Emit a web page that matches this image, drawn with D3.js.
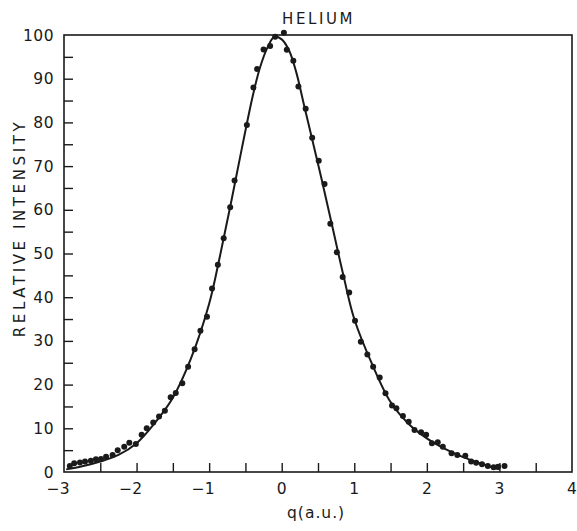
<!DOCTYPE html>
<html><head><meta charset="utf-8">
<script src="https://cdn.jsdelivr.net/npm/d3@7"></script>
<style>body{margin:0;background:#fff}svg{display:block}</style>
</head><body><svg id="c" width="577" height="531"></svg>
<script>
const title = "HELIUM";
const xLabel = "q(a.u.)";
const yLabel = "RELATIVE INTENSITY";
const xTicks = [-3, -2, -1, 0, 1, 2, 3, 4];
const xMinorTicks = [-2.5, -1.5, -0.5, 0.5, 1.5, 2.5, 3.5];
const yTicks = [0, 10, 20, 30, 40, 50, 60, 70, 80, 90, 100];
const yMinorTicks = [5, 15, 25, 35, 45, 55, 65, 75, 85, 95];

// fitted curve
const curveQ = [-2.97,-2.75,-2.5,-2.25,-2.0,-1.75,-1.5,-1.25,-1.0,-0.85,-0.7,-0.55,-0.4,-0.3,-0.2,-0.1,0,0.1,0.2,0.3,0.4,0.55,0.7,0.85,1.0,1.25,1.5,1.75,2.0,2.25,2.5,2.75,3.0];
const curveI = [0.6,1.3,2.4,3.9,6.6,11.2,17.0,26.0,38.5,49.5,61.5,74,86,92.5,97,99.6,99.0,96.5,91.5,84.5,77.5,67,56,45,35,24.5,16,11,7.7,5.3,3.4,1.9,0.6];

// measured points
const dotQ = [-2.92,-2.86,-2.78,-2.71,-2.63,-2.56,-2.49,-2.42,-2.33,-2.26,-2.17,-2.10,-2.01,
  -1.93,-1.86,-1.77,-1.69,-1.61,-1.53,-1.46,-1.37,-1.29,-1.20,-1.12,-1.03,-0.96,-0.88,-0.80,-0.71,
  -0.65,-0.48,-0.39,-0.34,-0.25,-0.16,-0.09,0.03,0.07,0.16,0.23,0.33,0.42,0.51,0.59,
  0.67,0.76,0.84,0.93,1.01,1.09,1.18,1.26,1.35,1.43,1.52,1.58,1.67,1.75,1.83,1.92,1.99,2.07,2.15,2.22,
  2.34,2.42,2.53,2.61,2.68,2.76,2.84,2.92,2.98,3.07];
const dotI = [1.4,2.0,2.2,2.4,2.6,2.9,3.0,3.5,3.9,5.0,5.8,6.7,6.4,
  8.5,10.0,11.3,12.7,14.0,17.1,18.1,20.3,24.1,28.1,32.3,35.5,42.0,47.4,53.5,60.6,
  66.7,79.4,88,92.2,96.7,97.5,99.6,100.5,96.6,94.1,88.2,83.1,76.5,71.2,65.9,
  56.8,50.3,44.6,41.1,34.6,29.8,26.9,24.1,21.6,18.0,15.2,14.6,12.8,11.5,9.6,9.1,8.5,6.6,6.8,5.8,
  4.3,3.9,3.7,2.4,2.1,1.8,1.4,1.1,1.2,1.4];

const svg = d3.select("#c");
const x = d3.scaleLinear().domain([-3, 4]).range([64, 572]);
const y = d3.scaleLinear().domain([0, 100]).range([472, 35]);
const font = "'DejaVu Sans', sans-serif";
const ink = "#1a1a1a";

// frame
svg.append("rect")
  .attr("x", x(-3)).attr("y", y(100))
  .attr("width", x(4) - x(-3)).attr("height", y(0) - y(100))
  .attr("fill", "none").attr("stroke", ink).attr("stroke-width", 1.6);

// x axis ticks (inward)
const xAxis = d3.axisTop(x).tickValues(xTicks.concat(xMinorTicks).filter(v => v > -3 && v < 4))
  .tickSize(9).tickFormat("");
const gx = svg.append("g").attr("transform", `translate(0,${y(0)})`).call(xAxis);
gx.select(".domain").remove();
gx.selectAll("line").attr("stroke", ink).attr("stroke-width", 1.4);

// y axis ticks (inward)
const yAxis = d3.axisRight(y).tickValues(yTicks.concat(yMinorTicks).filter(v => v > 0 && v < 100))
  .tickSize(9).tickFormat("");
const gy = svg.append("g").attr("transform", `translate(${x(-3)},0)`).call(yAxis);
gy.select(".domain").remove();
gy.selectAll("line").attr("stroke", ink).attr("stroke-width", 1.4);

// x tick labels
svg.append("g").selectAll("text").data(xTicks).join("text")
  .attr("x", d => d < 0 ? x(d) + 5.5 : x(d))
  .attr("y", 494)
  .attr("text-anchor", d => d < 0 ? "end" : "middle")
  .attr("font-family", font).attr("font-size", 15.5).attr("fill", ink)
  .text(d => d < 0 ? "\u2212" + Math.abs(d) : d);

// y tick labels
svg.append("g").selectAll("text").data(yTicks).join("text")
  .attr("x", 54).attr("y", d => y(d)).attr("dy", "0.36em")
  .attr("text-anchor", "end")
  .attr("font-family", font).attr("font-size", 15.5).attr("fill", ink)
  .attr("letter-spacing", 0.5)
  .text(d => d);

// title
svg.append("text").attr("x", 282).attr("y", 24)
  .attr("font-family", font).attr("font-size", 15).attr("fill", ink)
  .attr("letter-spacing", 2.6).text(title);

// x label
svg.append("text").attr("x", 287).attr("y", 518)
  .attr("font-family", font).attr("font-size", 15.5).attr("fill", ink)
  .attr("letter-spacing", 1).text(xLabel);

// y label
svg.append("text").attr("transform", "translate(25,228) rotate(-90)")
  .attr("text-anchor", "middle")
  .attr("font-family", font).attr("font-size", 15).attr("fill", ink)
  .attr("letter-spacing", 3.6).text(yLabel);

// curve
const line = d3.line().x(d => x(d[0])).y(d => y(d[1])).curve(d3.curveCatmullRom.alpha(0.5));
svg.append("path").datum(d3.zip(curveQ, curveI))
  .attr("d", line).attr("fill", "none").attr("stroke", ink).attr("stroke-width", 2);

// dots
svg.append("g").selectAll("circle").data(d3.zip(dotQ, dotI)).join("circle")
  .attr("cx", d => x(d[0])).attr("cy", d => y(d[1])).attr("r", 3)
  .attr("fill", ink);
</script>
</body></html>
